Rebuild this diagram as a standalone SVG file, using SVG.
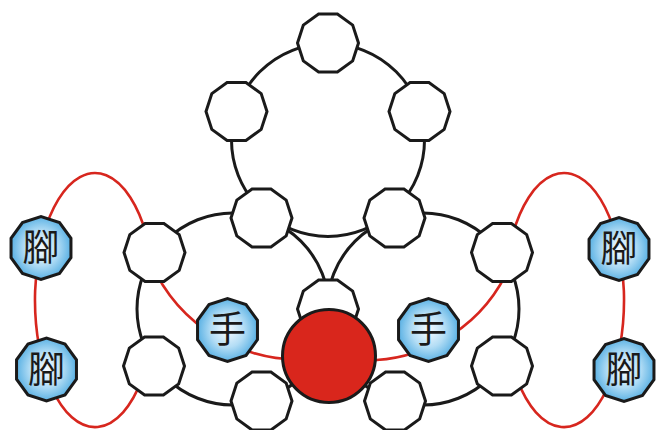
<svg xmlns="http://www.w3.org/2000/svg" width="656" height="430" viewBox="0 0 656 430">
<style>
.blk{fill:none;stroke:#1a1a1a;stroke-width:3}
.red{fill:none;stroke:#d7261e;stroke-width:2.6}
.wn{fill:#ffffff;stroke:#1a1a1a;stroke-width:3;stroke-linejoin:miter}
.bn{fill:url(#bg);stroke:#1a1a1a;stroke-width:3}
.lbl{font-family:"Noto Sans CJK TC","Noto Sans CJK SC",sans-serif;font-size:37px;fill:#1a1a1a;text-anchor:middle}
</style>
<defs>
<radialGradient id="bg" cx="50%" cy="50%" r="50%">
<stop offset="0" stop-color="#f6fbff"/>
<stop offset="0.55" stop-color="#b3ddf5"/>
<stop offset="1" stop-color="#5cb2e4"/>
</radialGradient>
<polygon id="wd" points="30.5,0 24.68,17.93 9.43,29.01 -9.43,29.01 -24.68,17.93 -30.5,0 -24.68,-17.93 -9.43,-29.01 9.43,-29.01 24.68,-17.93"/>
<polygon id="bd" points="29.96,9.73 18.52,25.48 0,31.5 -18.52,25.48 -29.96,9.73 -29.96,-9.73 -18.52,-25.48 0,-31.5 18.52,-25.48 29.96,-9.73"/>
</defs>
<g id="connectors">
<circle class="blk" cx="328" cy="140" r="96.5"/>
<circle class="blk" cx="233" cy="309" r="96"/>
<circle class="blk" cx="423" cy="309" r="96"/>
<path class="red" d="M146.5,235 A60,127 0 1 0 141.6,380"/>
<path class="red" d="M512.5,235 A60,127 0 1 1 517.4,380"/>
<path class="red" d="M156.3,273.9 A161,161 0 0 0 326.5,356.9"/>
<path class="red" d="M505.8,274.7 A156.9,156.9 0 0 1 352.3,359.8"/>
</g>
<g id="n1"><use href="#wd" class="wn" x="328" y="43"/></g>
<g id="n2"><use href="#wd" class="wn" x="236.5" y="111.5"/></g>
<g id="n3"><use href="#wd" class="wn" x="419.5" y="111.5"/></g>
<g id="n4"><use href="#wd" class="wn" x="261.5" y="218"/></g>
<g id="n5"><use href="#wd" class="wn" x="394.5" y="218"/></g>
<g id="n6"><use href="#wd" class="wn" x="154.5" y="252.5"/></g>
<g id="n7"><use href="#wd" class="wn" x="154" y="366"/></g>
<g id="n8"><use href="#wd" class="wn" x="261.5" y="401"/></g>
<g id="n9"><use href="#wd" class="wn" x="395" y="401"/></g>
<g id="n10"><use href="#wd" class="wn" x="502" y="252.5"/></g>
<g id="n11"><use href="#wd" class="wn" x="502" y="366"/></g>
<g id="n12"><use href="#wd" class="wn" x="328" y="309"/></g>
<g id="foot-lu"><use href="#bd" class="bn" x="41" y="248"/><text class="lbl" x="41" y="261">腳</text></g>
<g id="foot-ll"><use href="#bd" class="bn" x="46.5" y="369.5"/><text class="lbl" x="46.5" y="382.5">腳</text></g>
<g id="foot-ru"><use href="#bd" class="bn" x="619" y="249"/><text class="lbl" x="619" y="262">腳</text></g>
<g id="foot-rl"><use href="#bd" class="bn" x="624" y="370"/><text class="lbl" x="624" y="383">腳</text></g>
<g id="hand-l"><use href="#bd" class="bn" x="227.5" y="330"/><text class="lbl" x="227.5" y="343">手</text></g>
<g id="hand-r"><use href="#bd" class="bn" x="428.5" y="330"/><text class="lbl" x="428.5" y="343">手</text></g>
<g id="center"><circle cx="329" cy="356" r="46.5" fill="#d9261c" stroke="#1a1a1a" stroke-width="3"/></g>
</svg>
